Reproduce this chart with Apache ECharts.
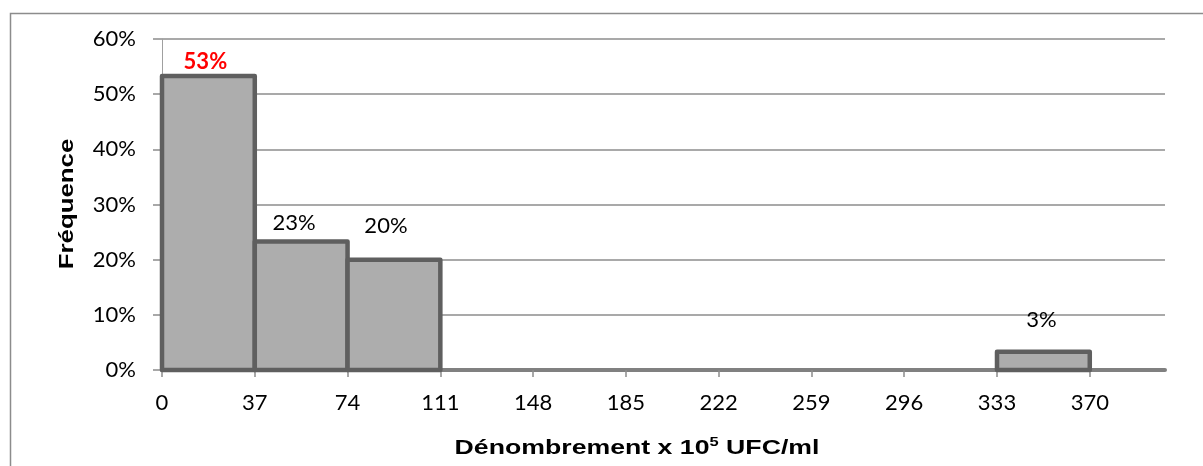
<!DOCTYPE html>
<html>
<head>
<meta charset="utf-8">
<script src="https://cdn.jsdelivr.net/npm/echarts@6/dist/echarts.min.js"></script>
<style>
html,body{margin:0;padding:0;background:#fff;}
#c{width:1203px;height:466px;}
</style>
</head>
<body>
<div id="c"></div>
<script>
// ---- data ----
const binStarts = [0, 37, 74, 111, 148, 185, 222, 259, 296, 333];
const binEnds   = [37, 74, 111, 148, 185, 222, 259, 296, 333, 370];
const frequencies = [53.3, 23.3, 20.0, 0, 0, 0, 0, 0, 0, 3.3];
const xTicks = [0, 37, 74, 111, 148, 185, 222, 259, 296, 333, 370];
const yTicks = [0, 10, 20, 30, 40, 50, 60];
const xTitle = 'Dénombrement x 10';
const xTitleSup = '5';
const xTitleTail = ' UFC/ml';
const yTitle = 'Fréquence';

// ---- styling (label placement relative to bar top centre) ----
const labelDx = [-3, -7, -8, 0, 0, 0, 0, 0, 0, -2];
const labelDy = [-14, -19, -34, 0, 0, 0, 0, 0, 0, -32];
const labelColor = ['#ff0000', '#000', '#000', '#000', '#000', '#000', '#000', '#000', '#000', '#000'];
const labelWeight = ['bold', 'normal', 'normal', 'normal', 'normal', 'normal', 'normal', 'normal', 'normal', 'normal'];

const data = binStarts.map((s, i) => [s, binEnds[i], frequencies[i]]);

const tickFont = 'Lato, "Open Sans", sans-serif';
const titleFont = '"Liberation Sans", Arial, sans-serif';
const chart = echarts.init(document.getElementById('c'), null, {renderer: 'canvas'});
chart.setOption({
  animation: false,
  backgroundColor: '#fff',
  grid: {left: 162, right: 38, top: 39, bottom: 96, containLabel: false},
  graphic: [{
    type: 'rect', left: 8, top: 11, silent: true,
    shape: {width: 1400, height: 700},
    style: {fill: 'none', stroke: '#8c8c8c', lineWidth: 1.5}
  }, {
    type: 'text', x: 637, y: 447, scaleX: 1.27, silent: true,
    style: {
      text: '{a|' + xTitle + '}{s|' + xTitleSup + '}{a|' + xTitleTail + '}',
      align: 'center', verticalAlign: 'middle',
      rich: {
        a: {fontFamily: titleFont, fontWeight: 'bold', fontSize: 21, fill: '#000', lineHeight: 24, verticalAlign: 'bottom'},
        s: {fontFamily: titleFont, fontWeight: 'bold', fontSize: 13, fill: '#000', lineHeight: 24, verticalAlign: 'top', padding: [1, 0, 0, 0]}
      }
    }
  }, {
    type: 'text', x: 67, y: 204, rotation: Math.PI / 2, scaleX: 1.23, silent: true,
    style: {
      text: yTitle, align: 'center', verticalAlign: 'middle',
      fontFamily: titleFont, fontWeight: 'bold', fontSize: 21, fill: '#000'
    }
  }],
  xAxis: {
    type: 'value', min: 0, max: 400, interval: 37,
    axisLine: {show: true, onZero: false, lineStyle: {color: '#808080', width: 4, cap: 'round'}},
    axisTick: {show: true, customValues: xTicks, length: 7, lineStyle: {color: '#8c8c8c', width: 1.5}},
    axisLabel: {customValues: xTicks, color: '#000', fontSize: 22, fontFamily: tickFont, margin: 22},
    splitLine: {show: false}
  },
  yAxis: {
    type: 'value', min: 0, max: 60, interval: 10,
    axisLine: {show: true, lineStyle: {color: '#a0a0a0', width: 1}},
    axisTick: {show: true, length: 9, lineStyle: {color: '#8c8c8c', width: 1.5}},
    axisLabel: {color: '#000', fontSize: 22, fontFamily: tickFont, margin: 26,
      formatter: v => v + '%'},
    splitLine: {show: true, lineStyle: {color: '#8c8c8c', width: 1.5}}
  },
  series: [{
    type: 'custom',
    data: data,
    encode: {x: [0, 1], y: 2},
    renderItem: function (params, api) {
      const i = params.dataIndex;
      const v = api.value(2);
      if (!v) return null;
      const p0 = api.coord([api.value(0), 0]);
      const p1 = api.coord([api.value(1), v]);
      const cx = (p0[0] + p1[0]) / 2;
      return {
        type: 'group',
        children: [{
          type: 'rect',
          shape: {x: p0[0], y: p1[1], width: p1[0] - p0[0], height: p0[1] - p1[1]},
          style: {fill: '#adadad', stroke: '#5f5f5f', lineWidth: 4.5, lineJoin: 'round'}
        }, {
          type: 'text',
          x: cx + labelDx[i], y: p1[1] + labelDy[i],
          style: {
            text: Math.round(v) + '%', align: 'center', verticalAlign: 'middle',
            fill: labelColor[i], fontWeight: labelWeight[i], fontSize: 22, fontFamily: tickFont
          }
        }]
      };
    }
  }]
});
</script>
</body>
</html>
